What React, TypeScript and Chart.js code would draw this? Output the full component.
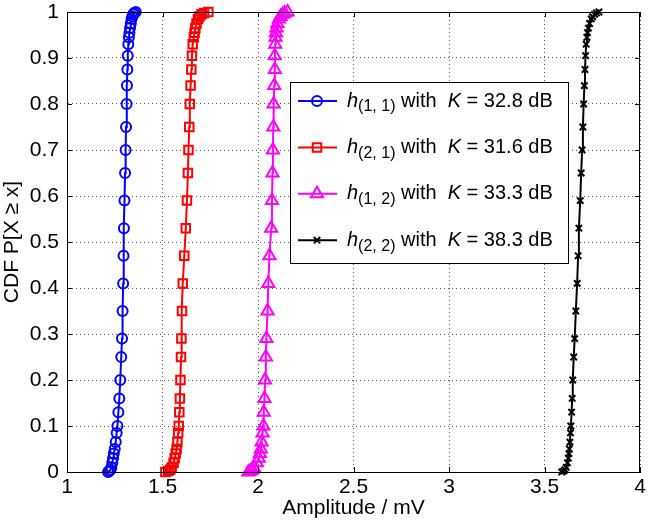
import React, { useEffect, useRef } from 'react';
import { Chart, registerables } from 'chart.js';
import { drawPoint } from 'chart.js/helpers';

Chart.register(...registerables);

// Empirical CDF levels at which the markers sit (shared by all four curves)
const cdfLevels = [
  0, 0.002, 0.005, 0.01, 0.02, 0.03, 0.04, 0.05, 0.065, 0.085, 0.1, 0.13, 0.16, 0.2, 0.25, 0.29,
  0.35, 0.41, 0.47, 0.53, 0.59, 0.65, 0.7, 0.75, 0.8, 0.84, 0.875, 0.905, 0.93, 0.945, 0.955,
  0.965, 0.975, 0.985, 0.99, 0.995, 0.998, 1,
];

// Amplitudes (mV) of each link at those CDF levels
const h11Amplitude = [
  1.215, 1.222, 1.228, 1.232, 1.237, 1.241, 1.245, 1.25, 1.255, 1.26, 1.264, 1.269, 1.274, 1.279,
  1.284, 1.288, 1.291, 1.294, 1.296, 1.298, 1.301, 1.304, 1.307, 1.309, 1.312, 1.314, 1.316,
  1.318, 1.321, 1.324, 1.327, 1.33, 1.334, 1.338, 1.342, 1.347, 1.352, 1.36,
];
const h21Amplitude = [
  1.515, 1.53, 1.54, 1.548, 1.558, 1.564, 1.569, 1.574, 1.578, 1.582, 1.585, 1.588, 1.591, 1.594,
  1.597, 1.599, 1.602, 1.606, 1.614, 1.622, 1.628, 1.633, 1.636, 1.64, 1.643, 1.647, 1.651,
  1.654, 1.658, 1.664, 1.668, 1.672, 1.678, 1.686, 1.694, 1.705, 1.718, 1.74,
];
const h12Amplitude = [
  1.95, 1.962, 1.97, 1.978, 1.994, 2.004, 2.01, 2.015, 2.019, 2.024, 2.028, 2.03, 2.034, 2.037,
  2.041, 2.044, 2.05, 2.054, 2.06, 2.069, 2.073, 2.076, 2.078, 2.08, 2.082, 2.085, 2.088, 2.088,
  2.09, 2.092, 2.094, 2.097, 2.102, 2.11, 2.118, 2.13, 2.14, 2.155,
];
const h22Amplitude = [
  3.59, 3.6, 3.607, 3.614, 3.62, 3.625, 3.628, 3.63, 3.633, 3.636, 3.638, 3.642, 3.645, 3.648,
  3.653, 3.658, 3.664, 3.671, 3.676, 3.68, 3.687, 3.692, 3.697, 3.701, 3.705, 3.709, 3.712,
  3.715, 3.718, 3.722, 3.725, 3.73, 3.736, 3.745, 3.752, 3.762, 3.772, 3.785,
];

const linkIndices = ['(1, 1)', '(2, 1)', '(1, 2)', '(2, 2)'];
const kFactorsDb = ['32.8', '31.6', '33.3', '38.3'];

const xTickValues = [1, 1.5, 2, 2.5, 3, 3.5, 4];
const yTickValues = [0, 0.1, 0.2, 0.3, 0.4, 0.5, 0.6, 0.7, 0.8, 0.9, 1];

const FONT_FAMILY = '"Liberation Sans", Arial, Helvetica, sans-serif';

const seriesStyles = [
  { color: '#0000ff', pointStyle: 'circle', radius: 5, pointBorderWidth: 2, lineWidth: 2 },
  { color: '#ff0000', pointStyle: 'rect', radius: 6, pointBorderWidth: 2, lineWidth: 2 },
  { color: '#ff00ff', pointStyle: 'triangle', radius: 7, pointBorderWidth: 2, lineWidth: 2 },
  { color: '#000000', pointStyle: 'crossRot', radius: 4.5, pointBorderWidth: 2, lineWidth: 2 },
];

const amplitudeSeries = [h11Amplitude, h21Amplitude, h12Amplitude, h22Amplitude];

const frameLegendPlugin = {
  id: 'frameLegend',
  afterDatasetsDraw(chart: any) {
    const ctx: CanvasRenderingContext2D = chart.ctx;
    const { left, top, right, bottom } = chart.chartArea;
    const xs = chart.scales.x;
    const ys = chart.scales.y;
    ctx.save();
    // full box frame
    ctx.strokeStyle = '#000';
    ctx.lineWidth = 1;
    ctx.setLineDash([]);
    ctx.strokeRect(Math.round(left) + 0.5, Math.round(top) + 0.5, Math.round(right - left) - 1, Math.round(bottom - top));
    // inward ticks
    const tl = 5;
    ctx.beginPath();
    xTickValues.forEach((v) => {
      const px = Math.round(xs.getPixelForValue(v)) + 0.5;
      ctx.moveTo(px, bottom);
      ctx.lineTo(px, bottom - tl);
      ctx.moveTo(px, top);
      ctx.lineTo(px, top + tl);
    });
    yTickValues.forEach((v) => {
      const py = Math.round(ys.getPixelForValue(v)) + 0.5;
      ctx.moveTo(left, py);
      ctx.lineTo(left + tl, py);
      ctx.moveTo(right, py);
      ctx.lineTo(right - tl, py);
    });
    ctx.stroke();

    // legend box
    const bx = left + 223;
    const by = top + 70;
    const bw = 278;
    const bh = 181;
    ctx.fillStyle = '#fff';
    ctx.fillRect(bx, by, bw, bh);
    ctx.strokeRect(bx + 0.5, by + 0.5, bw, bh);

    const rowGap = 46.4;
    linkIndices.forEach((idx, i) => {
      const st = seriesStyles[i];
      const cy = by + 19 + i * rowGap;
      // line sample
      ctx.strokeStyle = st.color;
      ctx.lineWidth = st.lineWidth;
      ctx.beginPath();
      ctx.moveTo(bx + 8, cy);
      ctx.lineTo(bx + 47, cy);
      ctx.stroke();
      ctx.fillStyle = 'rgba(0,0,0,0)';
      drawPoint(ctx, { pointStyle: st.pointStyle, radius: st.radius, rotation: 0, borderWidth: st.pointBorderWidth } as any, bx + 27, cy);

      // text
      ctx.fillStyle = '#000';
      ctx.textBaseline = 'middle';
      ctx.textAlign = 'left';
      let tx = bx + 57;
      ctx.font = `italic 20px ${FONT_FAMILY}`;
      ctx.fillText('h', tx, cy);
      tx += ctx.measureText('h').width;
      ctx.font = `16px ${FONT_FAMILY}`;
      ctx.fillText(idx, tx, cy + 6);
      tx += ctx.measureText(idx).width;
      ctx.font = `20px ${FONT_FAMILY}`;
      const mid = ' with  ';
      ctx.fillText(mid, tx, cy);
      tx += ctx.measureText(mid).width;
      ctx.font = `italic 20px ${FONT_FAMILY}`;
      ctx.fillText('K', tx, cy);
      tx += ctx.measureText('K').width;
      ctx.font = `20px ${FONT_FAMILY}`;
      ctx.fillText(` = ${kFactorsDb[i]} dB`, tx, cy);
    });
    ctx.restore();
  },
};

export default function App() {
  const canvasRef = useRef<HTMLCanvasElement | null>(null);

  useEffect(() => {
    if (!canvasRef.current) return;
    const tickFont = { family: FONT_FAMILY, size: 21 };
    const datasets = amplitudeSeries.map((amps, i) => {
      const st = seriesStyles[i];
      return {
        label: `h${linkIndices[i]} with K = ${kFactorsDb[i]} dB`,
        data: amps.map((a, j) => ({ x: a, y: cdfLevels[j] })),
        showLine: true,
        borderColor: st.color,
        borderWidth: st.lineWidth,
        pointStyle: st.pointStyle,
        pointRadius: st.radius,
        pointBorderWidth: st.pointBorderWidth,
        pointBorderColor: st.color,
        pointBackgroundColor: 'rgba(0,0,0,0)',
        tension: 0,
      };
    });

    const chart = new Chart(canvasRef.current, {
      type: 'scatter',
      data: { datasets } as any,
      options: {
        animation: false,
        responsive: false,
        devicePixelRatio: 1,
        clip: false as any,
        layout: { padding: { top: 12, right: 4, left: 0, bottom: 0 } },
        plugins: { legend: { display: false }, tooltip: { enabled: false } },
        scales: {
          x: {
            type: 'linear',
            min: 1,
            max: 4,
            afterBuildTicks: (s: any) => {
              s.ticks = xTickValues.map((v) => ({ value: v }));
            },
            afterFit: (s: any) => {
              s.height = 49;
              s.paddingLeft = 0;
              s.paddingRight = 0;
            },
            ticks: {
              font: tickFont,
              color: '#000',
              padding: 3,
              maxRotation: 0,
              autoSkip: false,
              callback: (v: any) => String(v),
            },
            grid: { color: '#555', drawTicks: false, lineWidth: 1 },
            border: { display: true, color: '#000', dash: [1, 3] },
            title: {
              display: true,
              text: 'Amplitude / mV',
              font: tickFont,
              color: '#000',
              padding: { top: 0, bottom: 0 },
            },
          },
          y: {
            type: 'linear',
            min: 0,
            max: 1,
            afterBuildTicks: (s: any) => {
              s.ticks = yTickValues.map((v) => ({ value: v }));
            },
            afterFit: (s: any) => {
              s.width = 67;
              s.paddingTop = 0;
              s.paddingBottom = 0;
            },
            ticks: {
              font: tickFont,
              color: '#000',
              padding: 8,
              autoSkip: false,
              callback: (v: any) => String(v),
            },
            grid: { color: '#555', drawTicks: false, lineWidth: 1 },
            border: { display: true, color: '#000', dash: [1, 3] },
            title: {
              display: true,
              text: 'CDF P[X \u2265 x]',
              font: tickFont,
              color: '#000',
              padding: { top: 0, bottom: 0 },
            },
          },
        },
      } as any,
      plugins: [frameLegendPlugin],
    });
    return () => chart.destroy();
  }, []);

  return (
    <div style={{ position: 'absolute', left: 0, top: 0, width: 649, height: 521, background: '#fff' }}>
      <canvas ref={canvasRef} width={649} height={521} style={{ display: 'block' }} />
    </div>
  );
}
